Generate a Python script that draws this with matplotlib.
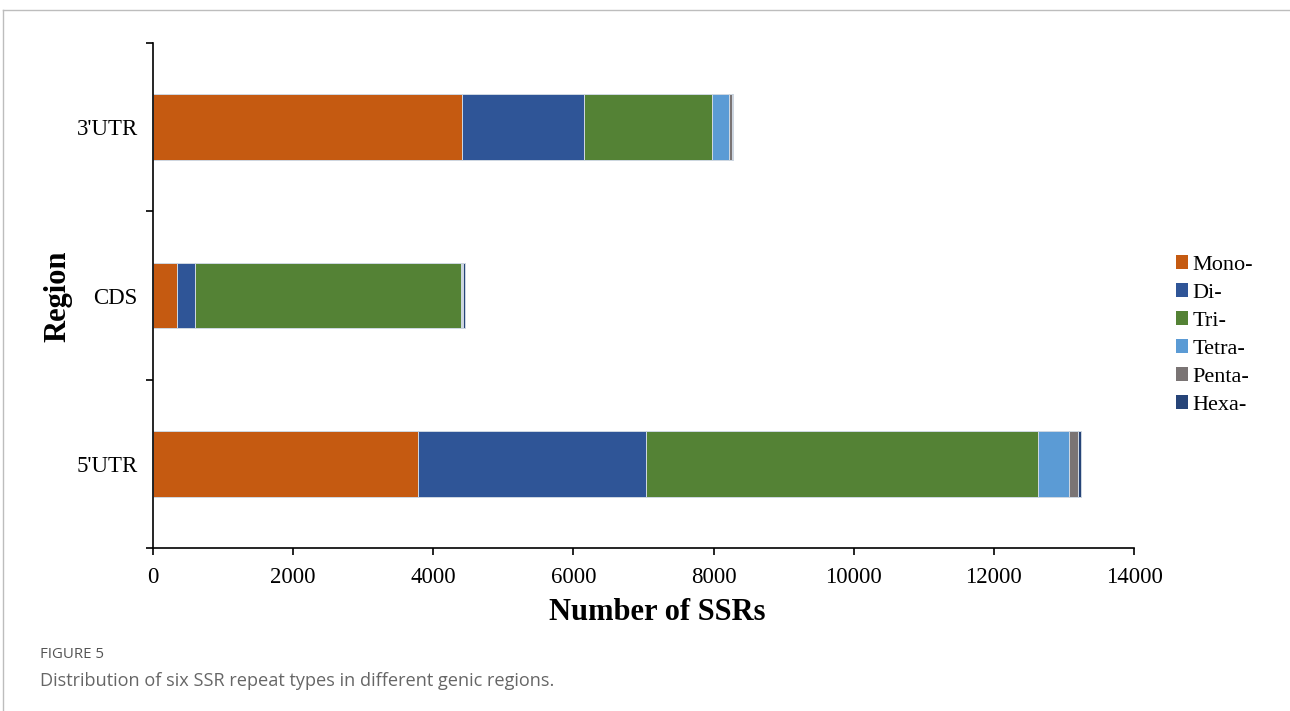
import matplotlib.pyplot as plt
import numpy as np
from matplotlib.lines import Line2D
from matplotlib.patches import Patch

regions = ["5'UTR", "CDS", "3'UTR"]
repeat_types = ["Mono-", "Di-", "Tri-", "Tetra-", "Penta-", "Hexa-"]
mono = [3786, 347, 4410]
di = [3254, 252, 1741]
tri = [5590, 3796, 1827]
tetra = [447, 15, 247]
penta = [118, 10, 35]
hexa = [47, 30, 11]
colors = ["#C55A11", "#2F5597", "#548235", "#5B9BD5", "#7A7474", "#264478"]

serif = "Liberation Serif"

fig = plt.figure(figsize=(12.9, 7.11), dpi=100)
ax = fig.add_axes([153 / 1290, 1 - 548 / 711, (1134 - 153) / 1290, (548 - 43) / 711])

y = np.arange(len(regions))
left = np.zeros(len(regions))
for series, color, name in zip([mono, di, tri, tetra, penta, hexa], colors, repeat_types):
    ax.barh(y, series, left=left, height=0.39, color=color, edgecolor="#cfd8e2",
            linewidth=0.7, label=name)
    left += np.array(series)

ax.set_xlim(0, 14000)
ax.set_ylim(-0.5, 2.5)
ax.set_xticks(np.arange(0, 14001, 2000))
ax.set_xticklabels([str(v) for v in range(0, 14001, 2000)], fontfamily=serif, fontsize=16.5)

# category names sit between the boundary tick marks
ax.set_yticks([-0.5, 0.5, 1.5, 2.5])
ax.set_yticklabels([])
ax.set_yticks(y, minor=True)
ax.set_yticklabels(regions, minor=True, fontfamily=serif, fontsize=16.5)
ax.tick_params(axis="y", which="minor", length=0, pad=11)
ax.tick_params(axis="y", which="major", length=5, width=1.2)
ax.tick_params(axis="x", length=5, width=1.2, pad=9)

for side in ["top", "right"]:
    ax.spines[side].set_visible(False)
for side in ["left", "bottom"]:
    ax.spines[side].set_linewidth(1.2)

ax.set_xlabel("Number of SSRs", fontfamily=serif, fontsize=22, fontweight="bold")
ax.xaxis.set_label_coords((657 - 153) / 981, -(613 - 548) / 505)
ax.set_ylabel("Region", fontfamily=serif, fontsize=22, fontweight="bold")
ax.yaxis.set_label_coords(-(153 - 58) / 981, (548 - 296) / 505)
ax.xaxis.label.set_va("center")
ax.yaxis.label.set_va("center")

handles = [Patch(facecolor=c, label=n) for c, n in zip(colors, repeat_types)]
fig.legend(handles=handles, loc="center left", bbox_to_anchor=(1176 / 1290, 1 - 335 / 711),
           frameon=False, prop={"family": serif, "size": 16}, handlelength=0.55,
           handleheight=0.55, handletextpad=0.2, labelspacing=0.38, borderpad=0,
           borderaxespad=0)

# panel frame
fig.add_artist(Line2D([3 / 1290, 1], [1 - 10 / 711, 1 - 10 / 711], transform=fig.transFigure,
                      color="#bdbdbd", linewidth=1))
fig.add_artist(Line2D([3 / 1290, 3 / 1290], [0, 1 - 10 / 711], transform=fig.transFigure,
                      color="#bdbdbd", linewidth=1))

fig.text(40 / 1290, 1 - 655 / 711, "FIGURE 5", fontfamily="Open Sans", fontsize=10.8,
         color="#555555", va="center")
fig.text(40 / 1290, 1 - 681 / 711, "Distribution of six SSR repeat types in different genic regions.",
         fontfamily="Open Sans", fontsize=13.1, color="#666666", va="center")

fig.savefig("out.png", dpi=100)
